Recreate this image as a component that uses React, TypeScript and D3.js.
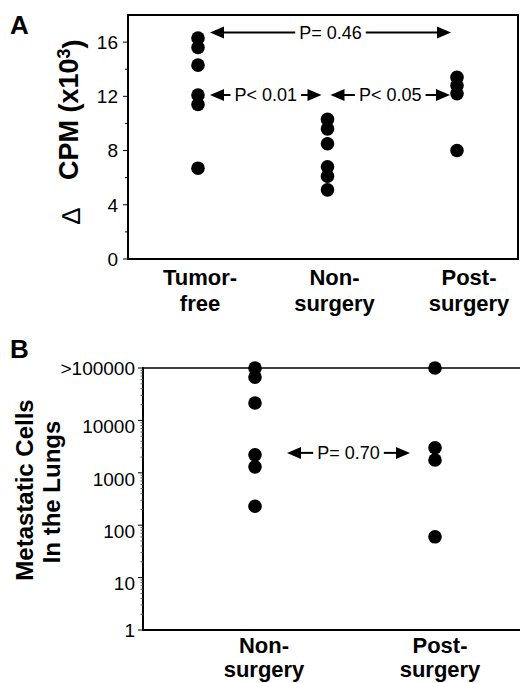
import React, { useEffect, useRef } from 'react';
import * as d3 from 'd3';

const FONT = 'Arial, "Liberation Sans", Helvetica, sans-serif';

// Panel A: delta CPM (x10^3)
const groupsA = ['Tumor-free', 'Non-surgery', 'Post-surgery'];
const groupLabelsA = [['Tumor-', 'free'], ['Non-', 'surgery'], ['Post-', 'surgery']];
const tumorFreeA = [16.3, 15.6, 14.3, 12.1, 11.4, 6.7];
const nonSurgeryA = [10.3, 9.6, 8.5, 6.8, 6.1, 5.1];
const postSurgeryA = [13.4, 12.8, 12.2, 8.0];
const yTicksA = [0, 4, 8, 12, 16];
const comparisonsA = [
  { from: 'Tumor-free', to: 'Post-surgery', at: 16.7, label: 'P= 0.46' },
  { from: 'Tumor-free', to: 'Non-surgery', at: 12.1, label: 'P< 0.01' },
  { from: 'Non-surgery', to: 'Post-surgery', at: 12.1, label: 'P< 0.05' },
];

// Panel B: metastatic cells in the lungs
const groupsB = ['Non-surgery', 'Post-surgery'];
const groupLabelsB = [['Non-', 'surgery'], ['Post-', 'surgery']];
const nonSurgeryB = [100000, 67000, 21500, 2200, 1300, 230];
const postSurgeryB = [100000, 3000, 1750, 60];
const yTicksB = [1, 10, 100, 1000, 10000, 100000];
const yTickLabelsB = ['1', '10', '100', '1000', '10000', '>100000'];
const comparisonsB = [
  { from: 'Non-surgery', to: 'Post-surgery', at: 2400, label: 'P= 0.70' },
];

// gap between dot column and arrow tip [left, right]
const insetsA = [[12, 6], [12, 6], [3, 7]];
const insetsB = [[32, 25]];

const App = () => {
  const ref = useRef<SVGSVGElement>(null);

  useEffect(() => {
    const svg = d3.select(ref.current);
    svg.selectAll('*').remove();
    svg.attr('width', 520).attr('height', 683).style('font-family', FONT);

    const drawArrows = (g, comps, insets, x, y) => {
      comps.forEach((c, i) => {
        const x1 = x(c.from) + insets[i][0];
        const x2 = x(c.to) - insets[i][1];
        const yy = y(c.at);
        const mid = (x1 + x2) / 2;
        const t = g.append('text')
          .attr('x', mid).attr('y', yy).attr('dy', '0.36em')
          .attr('text-anchor', 'middle')
          .style('font-size', '18px')
          .text(c.label);
        const w = (t.node() as SVGTextElement).getComputedTextLength();
        const head = 14, hw = 6, gap = 4;
        g.append('line').attr('x1', x1 + head - 1).attr('x2', mid - w / 2 - gap)
          .attr('y1', yy).attr('y2', yy).attr('stroke', '#000').attr('stroke-width', 2);
        g.append('line').attr('x1', mid + w / 2 + gap).attr('x2', x2 - head + 1)
          .attr('y1', yy).attr('y2', yy).attr('stroke', '#000').attr('stroke-width', 2);
        g.append('path').attr('d', `M${x1},${yy}L${x1 + head},${yy - hw}L${x1 + head},${yy + hw}Z`).attr('fill', '#000');
        g.append('path').attr('d', `M${x2},${yy}L${x2 - head},${yy - hw}L${x2 - head},${yy + hw}Z`).attr('fill', '#000');
      });
    };

    // ---------- Panel A ----------
    const gA = svg.append('g');
    const xA = d3.scalePoint().domain(groupsA).range([198, 457]);
    const xLabA = d3.scalePoint().domain(groupsA).range([200, 469]);
    const yA = d3.scaleLinear().domain([0, 18]).range([259, 15]);
    const left = 128, right = 518;

    gA.append('rect').attr('x', left).attr('y', yA(18)).attr('width', right - left)
      .attr('height', yA(0) - yA(18)).attr('fill', 'none').attr('stroke', '#000').attr('stroke-width', 2);

    d3.range(0, 18, 2).forEach(v => {
      const major = v % 4 === 0;
      gA.append('line').attr('x1', left).attr('x2', left - (major ? 5 : 3))
        .attr('y1', yA(v)).attr('y2', yA(v)).attr('stroke', '#000').attr('stroke-width', 1);
    });
    gA.selectAll('.ty').data(yTicksA).enter().append('text')
      .attr('x', left - 10).attr('y', d => yA(d)).attr('dy', '0.36em')
      .attr('text-anchor', 'end').style('font-size', '19px').text(d => d);

    const seriesA = [tumorFreeA, nonSurgeryA, postSurgeryA];
    seriesA.forEach((vals, i) => {
      gA.selectAll(null).data(vals).enter().append('circle')
        .attr('cx', xA(groupsA[i])).attr('cy', d => yA(d)).attr('r', 6.8).attr('fill', '#000');
    });

    groupLabelsA.forEach((lines, i) => {
      lines.forEach((ln, j) => {
        gA.append('text').attr('x', xLabA(groupsA[i])).attr('y', 285 + j * 26)
          .attr('text-anchor', 'middle').style('font-size', '22px').style('font-weight', 'bold').text(ln);
      });
    });

    drawArrows(gA, comparisonsA, insetsA, xA, yA);

    gA.append('text').attr('transform', 'translate(80,224) rotate(-90)')
      .style('font-size', '26px').text('\u2206');
    const yl = gA.append('text').attr('transform', 'translate(78,180) rotate(-90)')
      .style('font-size', '27px').style('font-weight', 'bold');
    yl.append('tspan').text('CPM (x10');
    yl.append('tspan').attr('dy', '-0.45em').style('font-size', '18px').text('3');
    yl.append('tspan').attr('dy', '0.45em').text(')');

    gA.append('text').attr('x', 10).attr('y', 34).style('font-size', '26px').style('font-weight', 'bold').text('A');

    // ---------- Panel B ----------
    const gB = svg.append('g');
    const xB = d3.scalePoint().domain(groupsB).range([255, 435]);
    const xLabB = d3.scalePoint().domain(groupsB).range([264, 440]);
    const yB = d3.scaleLog().domain([1, 100000]).range([630, 368]);
    const leftB = 143, rightB = 520;

    gB.append('line').attr('x1', leftB).attr('x2', rightB).attr('y1', yB(100000)).attr('y2', yB(100000))
      .attr('stroke', '#000').attr('stroke-width', 1.5);
    gB.append('line').attr('x1', leftB).attr('x2', leftB).attr('y1', yB(100000) - 0.75).attr('y2', yB(1) + 1)
      .attr('stroke', '#000').attr('stroke-width', 2);
    gB.append('line').attr('x1', leftB - 1).attr('x2', rightB).attr('y1', yB(1)).attr('y2', yB(1))
      .attr('stroke', '#000').attr('stroke-width', 2);

    yTicksB.slice(0, -1).forEach(d => {
      d3.range(2, 10).forEach(k => {
        gB.append('line').attr('x1', leftB).attr('x2', leftB - 2.5)
          .attr('y1', yB(d * k)).attr('y2', yB(d * k)).attr('stroke', '#555').attr('stroke-width', 1);
      });
    });
    yTicksB.forEach(d => {
      gB.append('line').attr('x1', leftB).attr('x2', leftB - 5)
        .attr('y1', yB(d)).attr('y2', yB(d)).attr('stroke', '#000').attr('stroke-width', 1);
    });
    gB.selectAll('.ty').data(yTicksB).enter().append('text')
      .attr('x', leftB - 8).attr('y', d => yB(d) + (d === 1 || d === 100000 ? 0 : 6)).attr('dy', '0.36em')
      .attr('text-anchor', 'end').style('font-size', '19px').text((d, i) => yTickLabelsB[i]);

    const seriesB = [nonSurgeryB, postSurgeryB];
    seriesB.forEach((vals, i) => {
      gB.selectAll(null).data(vals).enter().append('circle')
        .attr('cx', xB(groupsB[i])).attr('cy', d => yB(d)).attr('r', 6.8).attr('fill', '#000');
    });

    groupLabelsB.forEach((lines, i) => {
      lines.forEach((ln, j) => {
        gB.append('text').attr('x', xLabB(groupsB[i])).attr('y', 653 + j * 24)
          .attr('text-anchor', 'middle').style('font-size', '22px').style('font-weight', 'bold').text(ln);
      });
    });

    drawArrows(gB, comparisonsB, insetsB, xB, yB);

    gB.append('text').attr('transform', 'translate(33,490) rotate(-90)')
      .attr('text-anchor', 'middle').style('font-size', '24px').style('font-weight', 'bold').text('Metastatic Cells');
    gB.append('text').attr('transform', 'translate(60,492) rotate(-90)')
      .attr('text-anchor', 'middle').style('font-size', '24px').style('font-weight', 'bold').text('In the Lungs');

    gB.append('text').attr('x', 10).attr('y', 358).style('font-size', '26px').style('font-weight', 'bold').text('B');
  }, []);

  return (
    <svg ref={ref} style={{ position: 'absolute', left: 0, top: 0, background: '#fff' }}></svg>
  );
};

export default App;
